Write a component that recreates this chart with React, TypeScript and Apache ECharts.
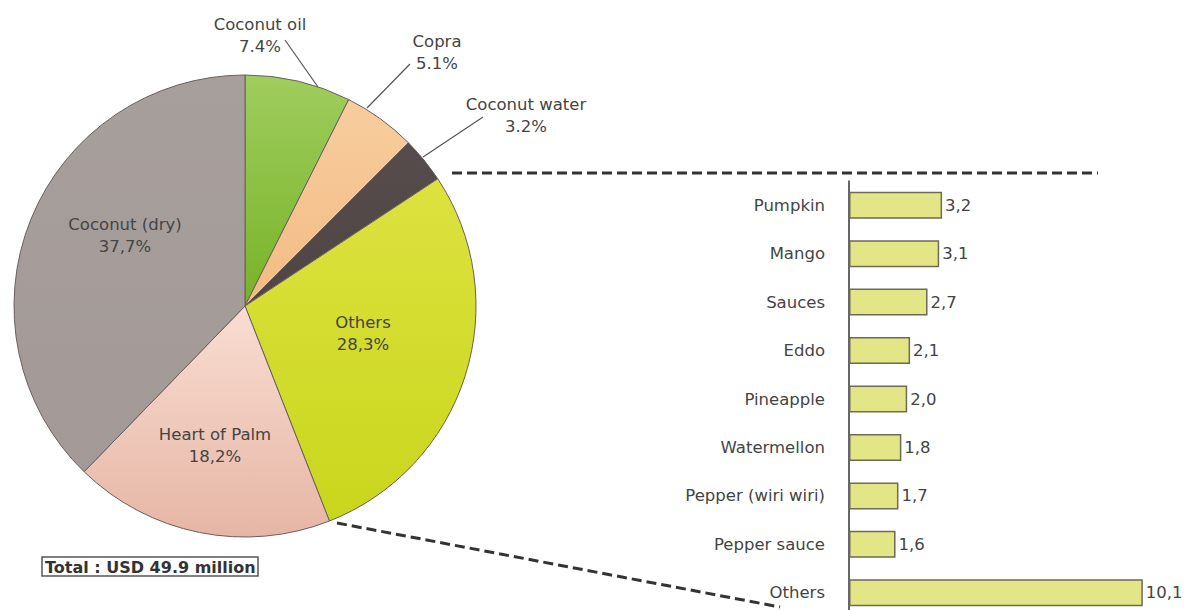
import React, { useEffect, useRef } from "react";
import * as echarts from "echarts";

const pieNames = ["Coconut oil", "Copra", "Coconut water", "Others", "Heart of Palm", "Coconut (dry)"];
const pieValues = [7.4, 5.1, 3.2, 28.3, 18.2, 37.7];
const pieDecimalSep = [".", ".", ".", ",", ",", ","];
const pieInside = [false, false, false, true, true, true];
const pieColorsTop = ["#a0cd5e", "#f8cd9e", "#564c4b", "#dde23f", "#f9ddd2", "#a79f9c"];
const pieColorsBottom = ["#76b326", "#f2bb84", "#4f4544", "#c9d61c", "#e6b6a5", "#a39a97"];

const barCategories = ["Pumpkin", "Mango", "Sauces", "Eddo", "Pineapple", "Watermellon", "Pepper (wiri wiri)", "Pepper sauce", "Others"];
const barValues = [3.2, 3.1, 2.7, 2.1, 2.0, 1.8, 1.7, 1.6, 10.1];

const totalText = "Total : USD 49.9 million";

const FONT = "DejaVu Sans";
const FS = 16.5;

// label placement (style only)
const labelPos: { x: number; y: number; line?: number[][] }[] = [
  { x: 260, y: 35, line: [[318, 87], [285, 40], [285, 40]] },
  { x: 437, y: 52, line: [[367, 108], [410, 64], [410, 64]] },
  { x: 526, y: 115, line: [[423, 157], [483, 117], [483, 117]] },
  { x: 363, y: 333 },
  { x: 215, y: 445 },
  { x: 125, y: 235 },
];

export default function App() {
  const ref = useRef<HTMLDivElement>(null);
  useEffect(() => {
    document.body.style.margin = "0";
    const chart = echarts.init(ref.current!, null, { renderer: "svg" });
    const pieData = pieNames.map((n, i) => ({
      name: n,
      value: pieValues[i],
      itemStyle: {
        color: new echarts.graphic.LinearGradient(0, 0, 0, 1, [
          { offset: 0, color: pieColorsTop[i] },
          { offset: 1, color: pieColorsBottom[i] },
        ]),
      },
      label: { position: pieInside[i] ? "inside" : "outside" },
      labelLine: { show: !pieInside[i] },
    }));
    chart.setOption({
      animation: false,
      title: {
        text: totalText,
        left: 42,
        top: 557,
        borderColor: "#555",
        borderWidth: 1.5,
        padding: [2, 3, 1, 3],
        textStyle: { fontFamily: FONT, fontWeight: "bold", fontSize: 16, color: "#333" },
      },
      grid: {
        left: 849,
        top: 181,
        width: 320,
        height: 436,
        containLabel: false,
        outerBoundsMode: "none",
      },
      xAxis: { type: "value", min: 0, max: 11, show: false },
      yAxis: {
        type: "category",
        data: barCategories,
        inverse: true,
        axisLine: { show: true, lineStyle: { color: "#333", width: 1.5 } },
        axisTick: { show: false },
        axisLabel: { margin: 24, fontFamily: FONT, fontSize: FS, color: "#444" },
      },
      series: [
        {
          type: "pie",
          center: [245, 306],
          radius: 231,
          startAngle: 90,
          clockwise: true,
          avoidLabelOverlap: false,
          itemStyle: { borderColor: "#6a5f5e", borderWidth: 1 },
          label: {
            fontFamily: FONT,
            fontSize: FS,
            color: "#444",
            lineHeight: 22,
            align: "center",
            formatter: (p: any) =>
              p.name + "\n" + p.value.toFixed(1).replace(".", pieDecimalSep[p.dataIndex]) + "%",
          },
          labelLine: { lineStyle: { color: "#555", width: 1.2 }, smooth: false },
          labelLayout: (p: any) => {
            const lp = labelPos[p.dataIndex];
            const r: any = { x: lp.x, y: lp.y, align: "center", verticalAlign: "middle" };
            if (lp.line) r.labelLinePoints = lp.line;
            return r;
          },
          data: pieData,
        },
        {
          type: "bar",
          data: barValues,
          barWidth: 27,
          itemStyle: { color: "#e2e686", borderColor: "#6d6a58", borderWidth: 1.5 },
          label: {
            show: true,
            position: "right",
            distance: 3,
            fontFamily: FONT,
            fontSize: FS,
            color: "#444",
            formatter: (p: any) => p.value.toFixed(1).replace(".", ","),
          },
        },
      ],
      graphic: [
        {
          type: "line",
          shape: { x1: 452, y1: 173, x2: 1098, y2: 173 },
          style: { stroke: "#333", lineWidth: 3, lineDash: [10, 5] },
        },
        {
          type: "line",
          shape: { x1: 337, y1: 523, x2: 780, y2: 607 },
          style: { stroke: "#333", lineWidth: 3, lineDash: [10, 5] },
        },
      ],
    });
    return () => chart.dispose();
  }, []);
  return (
    <div
      ref={ref}
      style={{ position: "absolute", left: 0, top: 0, width: 1184, height: 610 }}
    />
  );
}
